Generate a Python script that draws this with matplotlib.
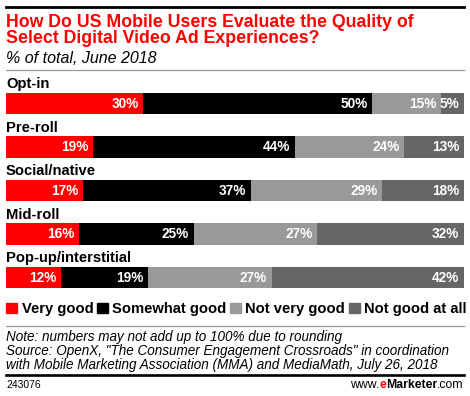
import matplotlib
matplotlib.use('Agg')
import matplotlib.pyplot as plt
from matplotlib.patches import Rectangle
from matplotlib.lines import Line2D
import numpy as np

W, H = 470, 396

categories = ['Opt-in', 'Pre-roll', 'Social/native', 'Mid-roll', 'Pop-up/interstitial']
very_good = [30, 19, 17, 16, 12]
somewhat_good = [50, 44, 37, 25, 19]
not_very_good = [15, 24, 29, 27, 27]
not_good_at_all = [5, 13, 18, 32, 42]
series_names = ['Very good', 'Somewhat good', 'Not very good', 'Not good at all']
colors = ['#ff0000', '#000000', '#999999', '#666666']

title_lines = ['How Do US Mobile Users Evaluate the Quality of',
               'Select Digital Video Ad Experiences?']
subtitle = '% of total, June 2018'
note_lines = ['Note: numbers may not add up to 100% due to rounding',
              'Source: OpenX, "The Consumer Engagement Crossroads" in coordination',
              'with Mobile Marketing Association (MMA) and MediaMath, July 26, 2018']
chart_id = '243076'

plt.rcParams['font.family'] = ['Liberation Sans', 'DejaVu Sans']

fig = plt.figure(figsize=(W / 100, H / 100), dpi=100)


def fx(px):
    return px / W


def fy(py):
    return 1 - py / H


# header / footer rules
fig.add_artist(Line2D([fx(6), fx(464)], [fy(7), fy(7)], color='black', lw=2.0))
fig.add_artist(Line2D([fx(6), fx(464)], [fy(70), fy(70)], color='#999999', lw=0.9))
fig.add_artist(Line2D([fx(6), fx(464)], [fy(326), fy(326)], color='#999999', lw=0.9))
fig.add_artist(Line2D([fx(6), fx(464)], [fy(374.7), fy(374.7)], color='black', lw=1.9))

for line, base in zip(title_lines, [26.7, 42.7]):
    fig.text(fx(6), fy(base), line, color='#ff0000', fontsize=12.8, fontweight='bold',
             va='baseline', ha='left')
fig.text(fx(6), fy(62.7), subtitle, fontsize=11.5, style='italic', va='baseline', ha='left')

# bars
ax = fig.add_axes([fx(6), fy(299.25), fx(458), 217.5 / H])
data = np.array([very_good, somewhat_good, not_very_good, not_good_at_all], dtype=float)
shares = data / data.sum(axis=0)
y = np.arange(len(categories))
left = np.zeros(len(categories))
for k in range(len(series_names)):
    ax.barh(y, shares[k], left=left, height=0.485, color=colors[k], linewidth=0)
    for i in range(len(categories)):
        ax.annotate(f'{int(data[k, i])}%', (left[i] + shares[k, i], y[i]),
                    xytext=(-3.5, 0), textcoords='offset points',
                    ha='right', va='center', color='white', fontsize=9.8,
                    fontweight='bold')
    left += shares[k]
for i, c in enumerate(categories):
    ax.text(0, y[i] - 0.345, c, ha='left', va='baseline', fontsize=10.6, fontweight='bold')
ax.set_xlim(0, 1)
ax.set_ylim(4.5, -0.5)
ax.axis('off')

# legend drawn by hand so it spans the width like the original
fig.canvas.draw()
renderer = fig.canvas.get_renderer()
xpos = 6
for name, col in zip(series_names, colors):
    fig.add_artist(Rectangle((fx(xpos), fy(313.3)), fx(11), 10.8 / H, color=col,
                             transform=fig.transFigure))
    t = fig.text(fx(xpos + 15.5), fy(312.7), name, fontsize=10.65, fontweight='bold',
                 va='baseline', ha='left')
    xpos += 15.5 + t.get_window_extent(renderer).width + 3.5

for line, base in zip(note_lines, [340.7, 355, 369.3]):
    fig.text(fx(6), fy(base), line, fontsize=9.75, style='italic', va='baseline', ha='left')
fig.text(fx(6), fy(388.3), chart_id, fontsize=7.5, va='baseline', ha='left')

# www.eMarketer.com
fs = 8.8
t1 = fig.text(fx(464), fy(388.3), '.com', fontsize=fs, va='baseline', ha='right')
w1 = t1.get_window_extent(renderer).width
t2 = fig.text(fx(464 - w1), fy(388.3), 'Marketer', fontsize=fs, fontweight='bold',
              va='baseline', ha='right')
w2 = t2.get_window_extent(renderer).width
t3 = fig.text(fx(464 - w1 - w2), fy(388.3), 'e', fontsize=fs, fontweight='bold',
              color='#ff0000', va='baseline', ha='right')
w3 = t3.get_window_extent(renderer).width
fig.text(fx(464 - w1 - w2 - w3), fy(388.3), 'www.', fontsize=fs, va='baseline', ha='right')

fig.savefig('out.png', dpi=100, facecolor='white')
